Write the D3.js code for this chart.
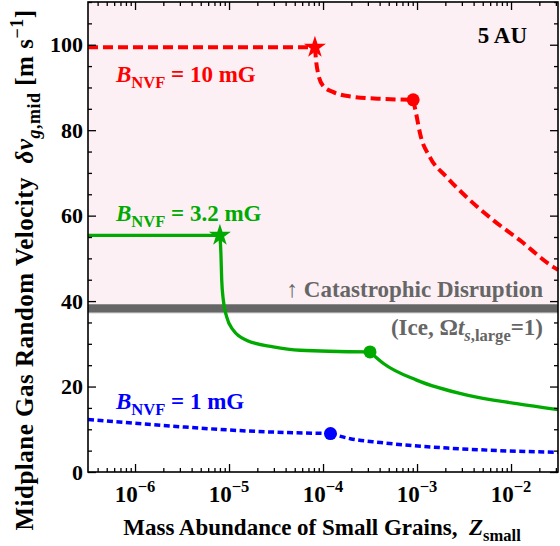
<!DOCTYPE html>
<html lang="en">
<head>
<meta charset="utf-8">
<script src="https://cdn.jsdelivr.net/npm/d3@7/dist/d3.min.js"></script>
<style>
  body { margin: 0; background: #fff; }
  text { font-family: "Liberation Serif", "Times New Roman", serif; font-weight: bold; white-space: pre; }
</style>
<title>Midplane gas random velocity, 5 AU</title>
</head>
<body>
<div id="vis"></div>
<script>
// values: [Z_small, dv_g,mid in m/s]
// each field is split at its star / circle so the kinks stay sharp
const red10_flat  = [[3.16e-7, 99.4], [8.2e-5, 99.4]];
const red10_drop  = [[8.2e-5, 99.4], [8.43e-5, 96.3], [8.9e-5, 93.1], [1.0e-4, 90.4], [1.29e-4, 88.9],
                     [1.94e-4, 87.9], [4.4e-4, 87.3], [9.1e-4, 87.1]];
const red10_tail  = [[9.1e-4, 87.1], [9.8e-4, 83.8], [1.08e-3, 79.1], [1.37e-3, 73.7], [2.07e-3, 69.0],
                     [3.38e-3, 64.3], [6.5e-3, 58.9], [1.25e-2, 54.2], [2.8e-2, 48.0], [3.16e-2, 47.3]];

const green32_flat = [[3.16e-7, 55.4], [8.0e-6, 55.4]];
const green32_drop = [[8.0e-6, 55.4], [8.2e-6, 51.1], [8.36e-6, 44.9], [8.7e-6, 40.2], [9.44e-6, 36.3],
                      [1.11e-5, 33.2], [1.55e-5, 30.8], [2.95e-5, 29.3], [5.7e-5, 28.5], [3.16e-4, 28.1]];
const green32_tail = [[3.16e-4, 28.1], [4.4e-4, 25.4], [9.9e-4, 21.5], [3.4e-3, 18.0], [1.15e-2, 16.0],
                      [3.16e-2, 14.6]];

const blue1_head = [[3.16e-7, 12.3], [3.0e-6, 10.6], [1.55e-5, 9.6], [1.2e-4, 9.0]];
const blue1_tail = [[1.2e-4, 9.0], [1.95e-4, 7.8], [4.07e-4, 6.9], [2.1e-3, 5.6], [7.6e-3, 5.0], [3.16e-2, 4.6]];

const stars   = [[8.2e-5, 99.4, "red"], [8.0e-6, 55.4, "green"]];
const circles = [[9.1e-4, 87.1, "red"], [3.16e-4, 28.1, "green"], [1.2e-4, 9.0, "blue"]];

const disruptionV = 38.3;   // catastrophic disruption threshold
const xTickExps = [-6, -5, -4, -3, -2];
const yTickLabels = [0, 20, 40, 60, 80, 100];

const colours = { red: "#ff0000", green: "#00aa00", blue: "#0000ff" };

const width = 560, height = 546;
const plot = { left: 88, right: 558, top: 2, bottom: 472 };

const x = d3.scaleLog().domain([3.16e-7, 3.16e-2]).range([plot.left, plot.right]);
const y = d3.scaleLinear().domain([0, 110]).range([plot.bottom, plot.top]);

const svg = d3.select("#vis").append("svg")
  .attr("width", width)
  .attr("height", height);

// pink zone above the disruption band
svg.append("rect")
  .attr("x", plot.left).attr("y", y(110))
  .attr("width", plot.right - plot.left)
  .attr("height", y(disruptionV + 1) - y(110))
  .attr("fill", "#fcf0f4");

svg.append("line")
  .attr("x1", plot.left).attr("x2", plot.right)
  .attr("y1", y(disruptionV) + 4.6).attr("y2", y(disruptionV) + 4.6)
  .attr("stroke", "#cfcfcf").attr("stroke-width", 1.2);

svg.append("line")
  .attr("x1", plot.left).attr("x2", plot.right)
  .attr("y1", y(disruptionV)).attr("y2", y(disruptionV))
  .attr("stroke", "#666").attr("stroke-width", 8.3);

// rich text helper: parts are {t, i, sub, sup}
function rich(parent, px, py, parts, size, colour, anchor) {
  const t = parent.append("text")
    .attr("x", px).attr("y", py)
    .attr("text-anchor", anchor || "start")
    .attr("fill", colour)
    .style("font-size", size + "px");
  let shift = 0;
  parts.forEach(p => {
    if (typeof p === "string") p = { t: p };
    const target = p.sub ? size * 0.28 : p.sup ? -size * 0.42 : 0;
    const ts = t.append("tspan").text(p.t).attr("dy", target - shift);
    shift = target;
    if (p.sub || p.sup) ts.style("font-size", (size * 0.72) + "px");
    if (p.i) ts.style("font-style", "italic");
  });
  return t;
}

// curves
const line = d3.line()
  .x(d => x(d[0]))
  .y(d => y(d[1]))
  .curve(d3.curveMonotoneX);

const series = [
  { parts: [red10_flat, red10_drop, red10_tail], c: colours.red, w: 4, dash: "10,5" },
  { parts: [green32_flat, green32_drop, green32_tail], c: colours.green, w: 3.3, dash: null },
  { parts: [blue1_head, blue1_tail], c: colours.blue, w: 3.5, dash: "6,3.5" }
];

series.forEach(s => {
  s.parts.forEach(seg => {
    svg.append("path")
      .datum(seg)
      .attr("d", line)
      .attr("fill", "none")
      .attr("stroke", s.c)
      .attr("stroke-width", s.w)
      .attr("stroke-dasharray", s.dash);
  });
});

svg.selectAll(".dot")
  .data(circles)
  .enter()
  .append("circle")
  .attr("cx", d => x(d[0]))
  .attr("cy", d => y(d[1]))
  .attr("r", 6.5)
  .attr("fill", d => colours[d[2]]);

svg.selectAll(".star")
  .data(stars)
  .enter()
  .append("path")
  .attr("transform", d => `translate(${x(d[0])},${y(d[1])})`)
  .attr("d", d3.symbol(d3.symbolStar, 150))
  .attr("fill", d => colours[d[2]]);

// frame and inward ticks on all four sides
const xAll = x.ticks();
const xMajor = xAll.filter(v => Math.abs(Math.log10(v) - Math.round(Math.log10(v))) < 1e-6);
const xMinor = xAll.filter(v => !xMajor.includes(v));
const yAll = d3.range(0, 111, 5);
const yMajor = yAll.filter(v => v % 20 === 0);
const yMinor = yAll.filter(v => v % 20 !== 0);

function axes(gen, vals, size, tr) {
  svg.append("g")
    .attr("transform", tr)
    .call(gen.tickValues(vals).tickSize(size).tickSizeOuter(0).tickFormat(""))
    .call(g => g.select(".domain").remove())
    .call(g => g.selectAll("line").attr("stroke", "#000").attr("stroke-width", 1.3));
}
axes(d3.axisBottom(x), xMajor, -8, `translate(0,${plot.bottom})`);
axes(d3.axisBottom(x), xMinor, -4, `translate(0,${plot.bottom})`);
axes(d3.axisTop(x), xMajor, -8, `translate(0,${plot.top})`);
axes(d3.axisTop(x), xMinor, -4, `translate(0,${plot.top})`);
axes(d3.axisLeft(y), yMajor, -8, `translate(${plot.left},0)`);
axes(d3.axisLeft(y), yMinor, -4, `translate(${plot.left},0)`);
axes(d3.axisRight(y), yMajor, -8, `translate(${plot.right},0)`);
axes(d3.axisRight(y), yMinor, -4, `translate(${plot.right},0)`);

svg.append("rect")
  .attr("x", plot.left).attr("y", plot.top)
  .attr("width", plot.right - plot.left)
  .attr("height", plot.bottom - plot.top)
  .attr("fill", "none")
  .attr("stroke", "#000")
  .attr("stroke-width", 1.6);

// tick labels
yTickLabels.forEach(v => {
  svg.append("text")
    .attr("x", plot.left - 5)
    .attr("y", y(v) + 7.5)
    .attr("text-anchor", "end")
    .style("font-size", "22px")
    .text(v);
});
xTickExps.forEach(e => {
  rich(svg, x(Math.pow(10, e)), 502, ["10", { t: "\u2212" + Math.abs(e), sup: true }], 23, "#000", "middle");
});

// axis titles
rich(svg, 322, 535, ["Mass Abundance of Small Grains,  ", { t: "Z", i: true }, { t: "small", sub: true }], 23, "#000", "middle");
rich(svg.append("g").attr("transform", "translate(33,270) rotate(-90)"), 0, 0,
  ["Midplane Gas Random Velocity  ", { t: "\u03b4v", i: true }, { t: "g", i: true, sub: true }, { t: ",mid", sub: true },
   " [m s", { t: "\u22121", sup: true }, "]"], 25, "#000", "middle")
  .style("letter-spacing", "0.5px");

// annotations
rich(svg, 527, 43, ["5 AU"], 23, "#000", "end");
rich(svg, 116, 82, [{ t: "B", i: true }, { t: "NVF", sub: true }, " = 10 mG"], 23, colours.red);
rich(svg, 116, 221, [{ t: "B", i: true }, { t: "NVF", sub: true }, " = 3.2 mG"], 23, colours.green);
rich(svg, 116, 409, [{ t: "B", i: true }, { t: "NVF", sub: true }, " = 1 mG"], 23, colours.blue);
rich(svg, 543, 297, ["\u2191 Catastrophic Disruption"], 23, "#666", "end");
rich(svg, 543, 335, ["(Ice, \u03a9", { t: "t", i: true }, { t: "s", i: true, sub: true }, { t: ",large", sub: true }, "=1)"], 23, "#666", "end");
</script>
</body>
</html>
